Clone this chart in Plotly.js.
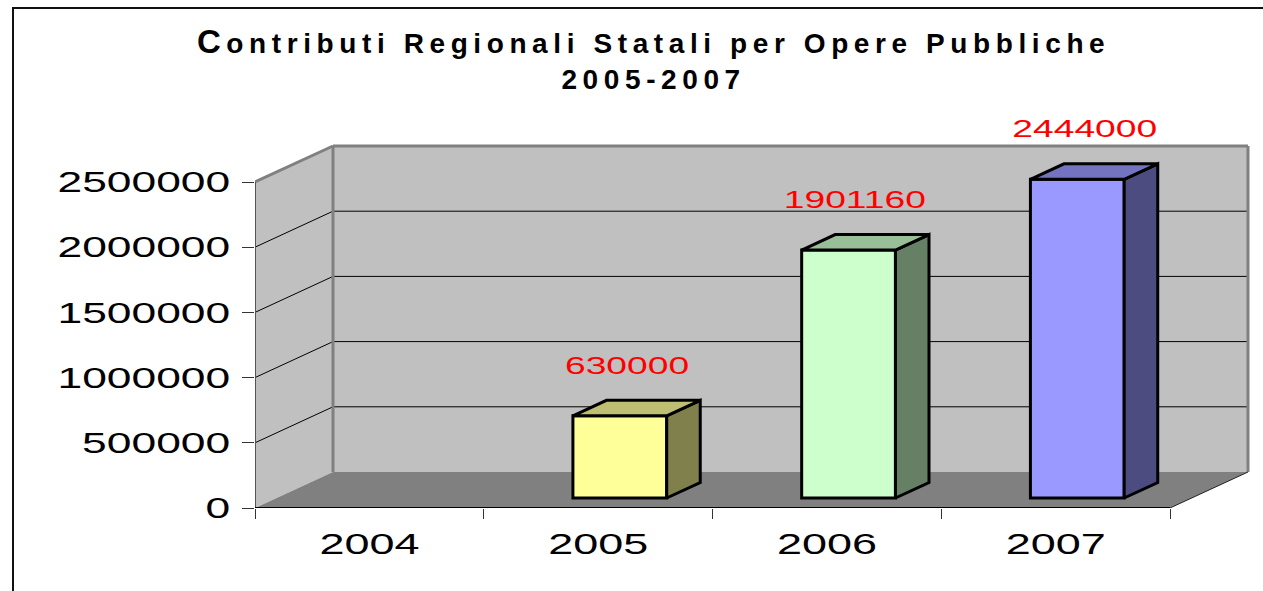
<!DOCTYPE html>
<html>
<head>
<meta charset="utf-8">
<script src="https://cdn.plot.ly/plotly-3.0.1.min.js"></script>
<style>
html,body{margin:0;padding:0;background:#fff;overflow:hidden}
#chart{width:1263px;height:591px}
.gtitle{letter-spacing:5.6px}
</style>
</head>
<body>
<div id="chart"></div>
<script>
// ---- data ----
const years = ['2004', '2005', '2006', '2007'];
const contributi = [null, 630000, 1901160, 2444000];
const yTickValues = [0, 500000, 1000000, 1500000, 2000000, 2500000];
const yTickLabels = ['0', '500000', '1000000', '1500000', '2000000', '2500000'];

// ---- styles ----
const frontColors = ['#FFFF99', '#FFFF99', '#CCFFCC', '#9999FF'];
const topColors   = ['#BFBF73', '#BFBF73', '#99BF99', '#7373BF'];
const sideColors  = ['#80804C', '#80804C', '#668066', '#4C4C80'];

// ---- 3D projection geometry (layout) ----
const W = 1263, H = 591, ML = 255, MR = 11, MT = 140, MB = 83;
const pxPerCat = 228.75;           // pixels per category on the front plane
const pxPerUnit = 130.4 / 1e6;     // pixels per value unit on the front plane
const DX = 78 / pxPerCat;          // full depth shift in x (category units)
const DY = 36 / pxPerUnit;         // full depth shift in y (value units)
const d0 = 0.278;                  // depth of bar front face
const bd = 0.43;                   // bar depth
const bw = 0.41;                   // bar width
const xMin = -0.5, xMax = years.length - 0.5;
const yTop = yTickValues[yTickValues.length - 1];

const xRange = [xMin, xMin + (W - ML - MR) / pxPerCat];
const yRange = [0, (H - MT - MB) / pxPerUnit];

// ---- traces ----
const xs = years.map((_, i) => i + d0 * DX);
const data = [{
  type: 'bar',
  x: xs,
  y: contributi,
  base: d0 * DY,
  width: bw,
  marker: {color: frontColors, line: {color: '#000', width: 3}},
  hoverinfo: 'skip',
  showlegend: false
}];

contributi.forEach((v, i) => {
  if (v === null) return;
  const xl = xs[i] - bw / 2, xr = xs[i] + bw / 2;
  const yb = d0 * DY, yt = d0 * DY + v;
  const ox = bd * DX, oy = bd * DY;
  // side face
  data.push({
    type: 'scatter', mode: 'lines', fill: 'toself',
    x: [xr, xr + ox, xr + ox, xr, xr],
    y: [yb, yb + oy, yt + oy, yt, yb],
    fillcolor: sideColors[i], line: {color: '#000', width: 3},
    hoverinfo: 'skip', showlegend: false
  });
  // top face
  data.push({
    type: 'scatter', mode: 'lines', fill: 'toself',
    x: [xl, xr, xr + ox, xl + ox, xl],
    y: [yt, yt, yt + oy, yt + oy, yt],
    fillcolor: topColors[i], line: {color: '#000', width: 3},
    hoverinfo: 'skip', showlegend: false
  });
});

// ---- shapes: walls, floor, gridlines, edges ----
const shapes = [];
const P = (x, y) => x + ',' + y;
// side wall
shapes.push({type: 'path', xref: 'x', yref: 'y', layer: 'below',
  path: 'M' + P(xMin, 0) + ' L' + P(xMin, yTop) + ' L' + P(xMin + DX, yTop + DY) + ' L' + P(xMin + DX, DY) + ' Z',
  fillcolor: '#C0C0C0', line: {width: 0}});
// back wall
shapes.push({type: 'rect', xref: 'x', yref: 'y', layer: 'below',
  x0: xMin + DX, x1: xMax + DX, y0: DY, y1: yTop + DY,
  fillcolor: '#C0C0C0', line: {width: 0}});
// floor
shapes.push({type: 'path', xref: 'x', yref: 'y', layer: 'below',
  path: 'M' + P(xMin, 0) + ' L' + P(xMax, 0) + ' L' + P(xMax + DX, DY) + ' L' + P(xMin + DX, DY) + ' Z',
  fillcolor: '#808080', line: {width: 0}});
// gridlines
yTickValues.forEach(v => {
  if (v === 0 || v === yTop) return;
  shapes.push({type: 'line', xref: 'x', yref: 'y', layer: 'below',
    x0: xMin, y0: v, x1: xMin + DX, y1: v + DY, line: {color: '#000', width: 1}});
  shapes.push({type: 'line', xref: 'x', yref: 'y', layer: 'below',
    x0: xMin + DX, y0: v + DY, x1: xMax + DX, y1: v + DY, line: {color: '#000', width: 1}});
});
// wall borders
const wallBorder = {color: '#808080', width: 3};
shapes.push({type: 'line', xref: 'x', yref: 'y', layer: 'below',
  x0: xMin, y0: yTop, x1: xMin + DX, y1: yTop + DY, line: wallBorder});
shapes.push({type: 'line', xref: 'x', yref: 'y', layer: 'below',
  x0: xMin + DX, y0: yTop + DY, x1: xMax + DX, y1: yTop + DY, line: wallBorder});
shapes.push({type: 'line', xref: 'x', yref: 'y', layer: 'below',
  x0: xMin + DX, y0: DY, x1: xMin + DX, y1: yTop + DY, line: wallBorder});
shapes.push({type: 'line', xref: 'x', yref: 'y', layer: 'below',
  x0: xMax + DX, y0: DY, x1: xMax + DX, y1: yTop + DY, line: wallBorder});
// y axis line
shapes.push({type: 'line', xref: 'x', yref: 'y', layer: 'below',
  x0: xMin, y0: 0, x1: xMin, y1: yTop, line: {color: '#555', width: 2}});
// front floor edge (x axis line)
shapes.push({type: 'line', xref: 'x', yref: 'y', layer: 'below',
  x0: xMin, y0: 0, x1: xMax, y1: 0, line: {color: '#000', width: 2}});
// floor right edge
shapes.push({type: 'line', xref: 'x', yref: 'y', layer: 'below',
  x0: xMax, y0: 0, x1: xMax + DX, y1: DY, line: {color: '#222', width: 1}});
// chart frame
const plotW = W - ML - MR, plotH = H - MT - MB;
shapes.push({type: 'rect', xref: 'paper', yref: 'paper', layer: 'above',
  x0: (13 - ML) / plotW, x1: (W + 20 - ML) / plotW,
  y0: (H - MB - (H + 20)) / plotH, y1: (H - MB - 8) / plotH,
  fillcolor: 'rgba(0,0,0,0)', line: {color: '#111', width: 2}});

// ---- data labels ----
const annotations = [];
contributi.forEach((v, i) => {
  if (v === null) return;
  annotations.push({
    xref: 'x', yref: 'y', x: xs[i] + 0.03, y: v + d0 * DY,
    text: String(v), showarrow: false, yanchor: 'bottom', yshift: 35,
    font: {family: 'Liberation Sans, Arial, sans-serif', size: 24, color: '#FF0000'}
  });
});

const layout = {
  width: W, height: H,
  margin: {l: ML, r: MR, t: MT, b: MB, pad: 0},
  paper_bgcolor: '#fff', plot_bgcolor: 'rgba(0,0,0,0)',
  showlegend: false,
  title: {
    text: '<span style="font-size:33px">C</span>ontributi Regionali Statali per Opere Pubbliche<br>2005-2007',
    font: {family: 'Liberation Sans, Arial, sans-serif', size: 28, color: '#000', weight: 'bold'},
    xref: 'container', x: 0.5175, xanchor: 'center',
    yref: 'container', y: 1 - 53 / H, yanchor: 'top'
  },
  xaxis: {
    range: xRange, fixedrange: true, showgrid: false, zeroline: false, showline: false,
    tickmode: 'array', tickvals: years.map((_, i) => i), ticktext: years,
    ticks: 'outside', ticklen: 0, ticklabelstandoff: 10,
    minor: {tickmode: 'array', tickvals: years.map((_, i) => i - 0.5).concat([xMax]),
            ticks: 'outside', ticklen: 10, tickcolor: '#333', tickwidth: 1},
    tickfont: {family: 'Liberation Sans, Arial, sans-serif', size: 29, color: '#000'}
  },
  yaxis: {
    range: yRange, fixedrange: true, showgrid: false, zeroline: false, showline: false,
    tickmode: 'array', tickvals: yTickValues, ticktext: yTickLabels,
    ticks: 'outside', ticklen: 12, tickcolor: '#333', tickwidth: 1,
    ticklabelstandoff: 6,
    tickfont: {family: 'Liberation Sans, Arial, sans-serif', size: 29, color: '#000'}
  },
  shapes: shapes,
  annotations: annotations
};

Plotly.newPlot('chart', data, layout, {staticPlot: true, displayModeBar: false}).then(gd => {
  const stretch = (sel, f) => gd.querySelectorAll(sel).forEach(t => {
    const w = t.getComputedTextLength();
    if (w > 0) {
      t.setAttribute('textLength', (w * f).toFixed(1));
      t.setAttribute('lengthAdjust', 'spacingAndGlyphs');
    }
  });
  stretch('.xtick text', 1.55);
  stretch('.ytick text', 1.53);
  stretch('.annotation-text', 1.55);
});
</script>
</body>
</html>
